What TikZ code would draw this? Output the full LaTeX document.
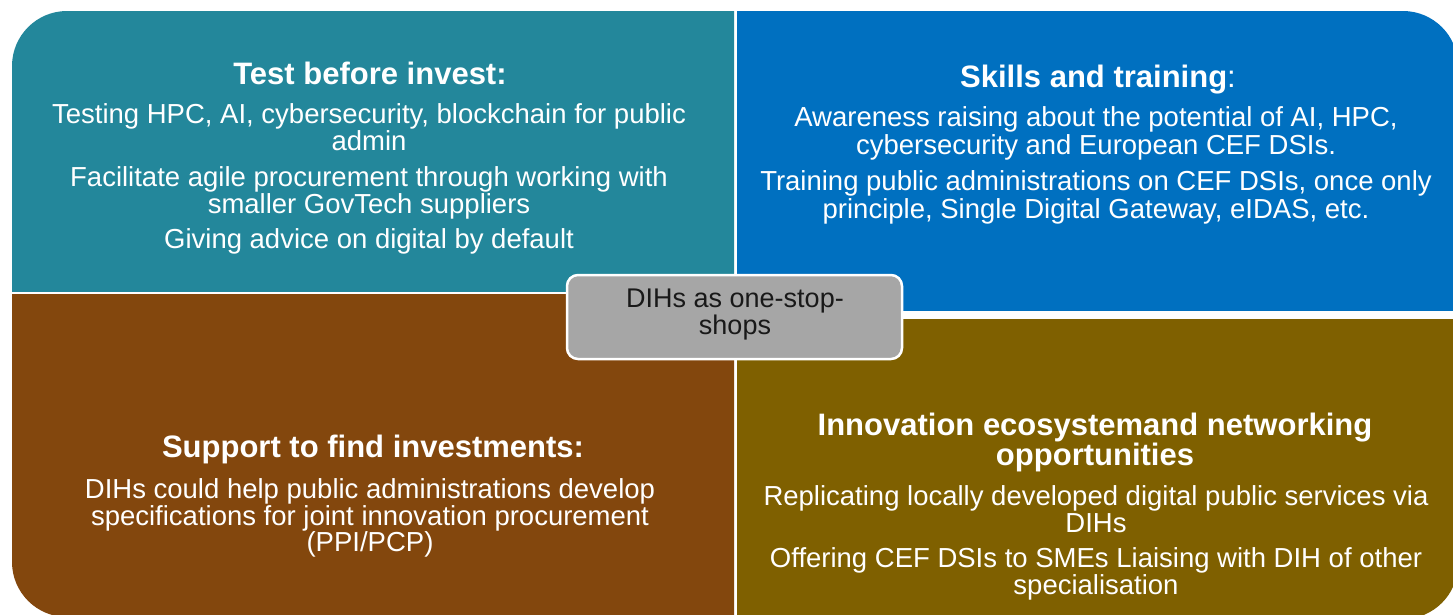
\documentclass[tikz,border=0pt]{standalone}
\usepackage{fontspec}
\setmainfont{Liberation Sans}
\definecolor{qteal}{RGB}{35,135,155}
\definecolor{qblue}{RGB}{0,112,192}
\definecolor{qbrown}{RGB}{131,71,13}
\definecolor{qolive}{RGB}{127,96,0}
\definecolor{qgray}{RGB}{166,166,166}
\definecolor{qdark}{RGB}{25,25,25}
\tikzset{
  ttl/.style={font=\fontsize{31}{31}\selectfont\bfseries, text=white, anchor=base, inner sep=0pt},
  bdy/.style={font=\fontsize{27.5}{27.5}\selectfont, text=white, anchor=base, inner sep=0pt},
  hub/.style={draw=white, line width=2.5pt, fill=qgray, rounded corners=11pt},
  hubtxt/.style={font=\fontsize{27}{27}\selectfont, text=qdark, anchor=base, inner sep=0pt},
}
\begin{document}
\begin{tikzpicture}[x=1pt,y=-1pt]
\useasboundingbox (0,0) rectangle (1453,614);
% quadrants
\begin{scope}
  \clip (12,11) rectangle (734,291);
  \fill[qteal, rounded corners=55pt] (12,11) rectangle (834,391);
\end{scope}
\begin{scope}
  \clip (737,11) rectangle (1453,310);
  \fill[qblue, rounded corners=55pt] (637,11) rectangle (1458,410);
\end{scope}
\begin{scope}
  \clip (12,294) rectangle (734,614);
  \fill[qbrown, rounded corners=55pt] (12,194) rectangle (834,617);
\end{scope}
\begin{scope}
  \clip (737,319) rectangle (1453,614);
  \fill[qolive, rounded corners=55pt] (637,219) rectangle (1458,619);
\end{scope}
% top-left texts
\node[ttl] (tlT) at (370,84) {Test before invest:};
\node[bdy] (tl1) at (369,123) {Testing HPC, AI, cybersecurity, blockchain for public};
\node[bdy] (tl2) at (369,150) {admin};
\node[bdy] (tl3) at (369,186) {Facilitate agile procurement  through working  with};
\node[bdy] (tl4) at (369,213) {smaller GovTech suppliers};
\node[bdy] (tl5) at (369,248) {Giving advice on digital by default};
% top-right texts
\node[ttl] (trT) at (1098,87) {Skills and training\mdseries:};
\node[bdy] (tr1) at (1096,126) {Awareness  raising about the potential of AI, HPC,};
\node[bdy] (tr2) at (1096,154) {cybersecurity and European CEF DSIs.};
\node[bdy] (tr3) at (1096,190) {Training  public administrations on CEF DSIs, once only};
\node[bdy] (tr4) at (1096,218) {principle, Single Digital Gateway, eIDAS, etc.};
% bottom-left texts
\node[ttl] (blT) at (373,457) {Support to find investments:};
\node[bdy] (bl1) at (370,498) {DIHs could help public administrations develop};
\node[bdy] (bl2) at (370,525) {specifications for joint innovation procurement};
\node[bdy] (bl3) at (370,551) {(PPI/PCP)};
% bottom-right texts
\node[ttl] (brT1) at (1095,435) {Innovation ecosystemand networking};
\node[ttl] (brT2) at (1095,465) {opportunities};
\node[bdy] (br1) at (1096,505) {Replicating  locally developed digital public services via};
\node[bdy] (br2) at (1096,532) {DIHs};
\node[bdy] (br3) at (1096,567) {Offering CEF DSIs to SMEs Liaising with DIH of other};
\node[bdy] (br4) at (1096,594) {specialisation};
% hub
\draw[hub] (567,275) rectangle (902,359);
\node[hubtxt] (hub1) at (735,307) {DIHs as one-stop-};
\node[hubtxt] (hub2) at (735,334) {shops};
\end{tikzpicture}
\end{document}
